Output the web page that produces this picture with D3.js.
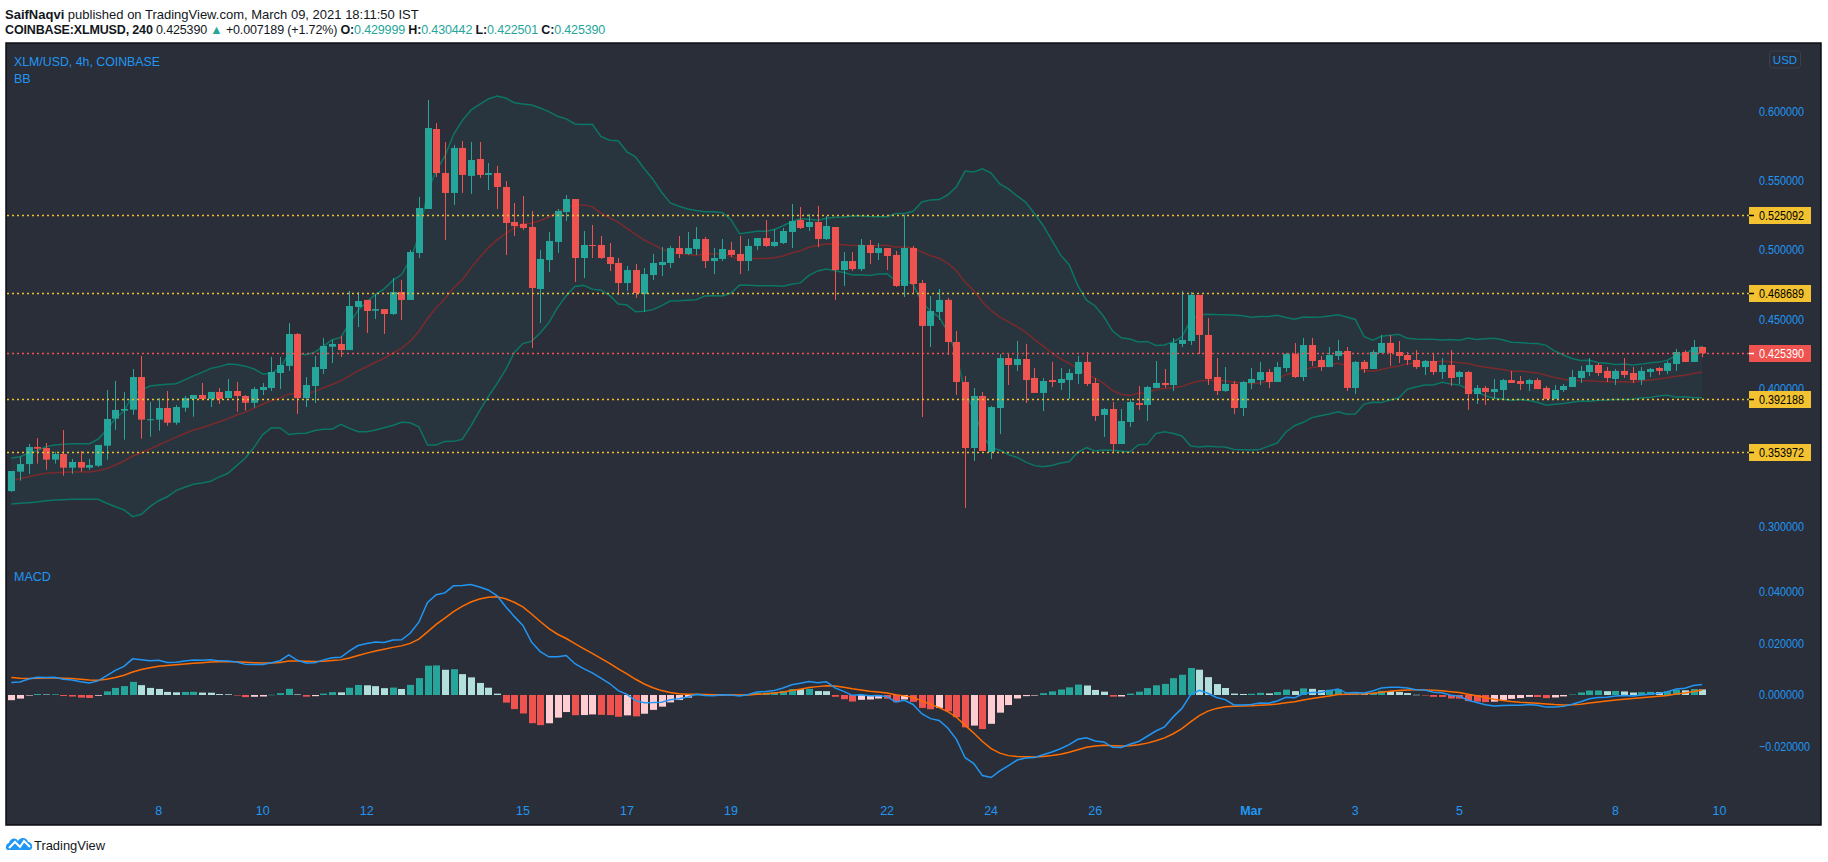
<!DOCTYPE html>
<html><head><meta charset="utf-8">
<script src="https://cdn.jsdelivr.net/npm/d3@7"></script>
<style>
body{margin:0;background:#ffffff;}
text{font-family:"Liberation Sans",Arial,sans-serif;}
</style>
</head><body>
<svg id="c" width="1828" height="862"></svg>
<script>
// ---------------- DATA ----------------
const opens = [
0.3259,0.3399,0.3454,0.3577,0.3570,0.3486,0.3527,0.3428,0.3469,0.3428,
0.3442,0.3587,0.3782,0.3840,0.3847,0.4083,0.3775,0.3775,0.3859,0.3753,
0.3861,0.3924,0.3953,0.3924,0.3975,0.3931,0.3982,0.3946,0.3897,0.3989,
0.4004,0.4112,0.4163,0.4394,0.3931,0.4018,0.4141,0.4302,0.4322,0.4278,
0.4589,0.4640,0.4562,0.4574,0.4538,0.4697,0.4640,0.4979,0.5297,0.5875,
0.5557,0.5413,0.5738,0.5536,0.5658,0.5543,0.5557,0.5456,0.5203,0.5189,
0.5167,0.4719,0.4928,0.5059,0.5275,0.5369,0.4943,0.5037,0.5037,0.4950,
0.4907,0.4762,0.4856,0.4683,0.4820,0.4892,0.4907,0.5015,0.4972,0.5008,
0.5080,0.4921,0.4936,0.5001,0.4972,0.4921,0.5030,0.5087,0.5030,0.5051,
0.5131,0.5217,0.5167,0.5203,0.5080,0.5167,0.4856,0.4921,0.4863,0.5037,
0.4979,0.5015,0.4965,0.4741,0.5015,0.4762,0.4452,0.4553,0.4640,0.4336,
0.4047,0.3570,0.3946,0.3541,0.3859,0.4220,0.4170,0.4213,0.4076,0.3968,
0.4061,0.4040,0.4061,0.4105,0.4192,0.4040,0.3809,0.3852,0.3599,0.3758,
0.3895,0.3881,0.4004,0.4040,0.4025,0.4322,0.4343,0.4676,0.4387,0.4083,
0.3982,0.4033,0.3859,0.4040,0.4061,0.4119,0.4047,0.4148,0.4249,0.4083,
0.4314,0.4206,0.4155,0.4235,0.4271,0.4004,0.4192,0.4141,0.4257,0.4329,
0.4264,0.4242,0.4206,0.4155,0.4199,0.4119,0.4170,0.4083,0.4119,0.3960,
0.4004,0.3975,0.3989,0.4061,0.4054,0.4033,0.4061,0.4004,0.3924,0.3989,
0.4011,0.4076,0.4119,0.4170,0.4127,0.4069,0.4127,0.4112,0.4061,0.4119,
0.4148,0.4127,0.4177,0.4264,0.4192,0.429999];
const highs = [
0.3404,0.3507,0.3599,0.3642,0.3606,0.3543,0.3700,0.3491,0.3548,0.3491,
0.3592,0.3989,0.4054,0.3975,0.4141,0.4235,0.3902,0.3931,0.3982,0.3881,
0.3946,0.3953,0.4040,0.3975,0.4004,0.4069,0.4047,0.3953,0.4011,0.4040,
0.4228,0.4228,0.4473,0.4401,0.4083,0.4235,0.4365,0.4351,0.4379,0.4705,
0.4697,0.4640,0.4683,0.4574,0.4798,0.4784,0.5001,0.5384,0.6085,0.5918,
0.5781,0.5760,0.5788,0.5781,0.5781,0.5629,0.5608,0.5499,0.5340,0.5391,
0.5283,0.5001,0.5131,0.5297,0.5398,0.5369,0.5138,0.5181,0.5102,0.5051,
0.4943,0.4885,0.4900,0.4871,0.4972,0.5022,0.5030,0.5102,0.5131,0.5167,
0.5095,0.5015,0.5080,0.5059,0.5102,0.5080,0.5087,0.5217,0.5153,0.5160,
0.5333,0.5311,0.5261,0.5319,0.5246,0.5167,0.4986,0.4986,0.5080,0.5073,
0.5051,0.5015,0.4994,0.5254,0.5030,0.4784,0.4668,0.4719,0.4654,0.4416,
0.4090,0.4004,0.3975,0.3874,0.4249,0.4249,0.4343,0.4322,0.4148,0.4076,
0.4192,0.4148,0.4141,0.4235,0.4264,0.4076,0.3859,0.3902,0.3852,0.3924,
0.4018,0.4018,0.4199,0.4141,0.4365,0.4705,0.4697,0.4676,0.4509,0.4220,
0.4155,0.4054,0.4054,0.4148,0.4192,0.4141,0.4192,0.4257,0.4329,0.4365,
0.4365,0.4235,0.4300,0.4351,0.4300,0.4199,0.4206,0.4278,0.4387,0.4387,
0.4343,0.4264,0.4278,0.4206,0.4257,0.4220,0.4278,0.4127,0.4127,0.4025,
0.4018,0.4069,0.4069,0.4127,0.4090,0.4069,0.4076,0.4018,0.4025,0.4033,
0.4134,0.4163,0.4220,0.4184,0.4155,0.4141,0.4220,0.4155,0.4155,0.4148,
0.4155,0.4199,0.4286,0.4278,0.4351,0.430442];
const lows = [
0.3252,0.3334,0.3382,0.3457,0.3413,0.3457,0.3370,0.3384,0.3399,0.3413,
0.3433,0.3486,0.3702,0.3630,0.3811,0.3637,0.3652,0.3695,0.3731,0.3738,
0.3832,0.3796,0.3924,0.3866,0.3888,0.3931,0.3832,0.3840,0.3861,0.3953,
0.3982,0.3996,0.4127,0.3816,0.3866,0.3895,0.4105,0.4184,0.4228,0.4278,
0.4444,0.4401,0.4502,0.4394,0.4531,0.4495,0.4640,0.4943,0.5297,0.5528,
0.5073,0.5326,0.5413,0.5406,0.5521,0.5434,0.5297,0.4965,0.5102,0.5145,
0.4293,0.4473,0.4842,0.4979,0.5210,0.4770,0.4798,0.4943,0.4936,0.4849,
0.4676,0.4705,0.4654,0.4553,0.4784,0.4813,0.4871,0.4943,0.4965,0.4965,
0.4871,0.4827,0.4921,0.4950,0.4827,0.4849,0.5001,0.5022,0.5022,0.5044,
0.5015,0.5153,0.5138,0.5022,0.5073,0.4640,0.4741,0.4849,0.4849,0.4900,
0.4928,0.4856,0.4733,0.4661,0.4683,0.3794,0.4300,0.4495,0.4242,0.3953,
0.3137,0.3476,0.3548,0.3491,0.3671,0.4025,0.4127,0.3895,0.3968,0.3837,
0.4011,0.3989,0.3924,0.4033,0.4018,0.3765,0.3650,0.3541,0.3599,0.3722,
0.3845,0.3765,0.4004,0.4004,0.3982,0.4300,0.4314,0.4249,0.4025,0.3953,
0.3975,0.3816,0.3801,0.3996,0.4025,0.4004,0.4047,0.4119,0.4076,0.4054,
0.4163,0.4127,0.4155,0.4206,0.3982,0.3960,0.4112,0.4141,0.4257,0.4163,
0.4184,0.4170,0.4141,0.4098,0.4098,0.4069,0.4018,0.4033,0.3845,0.3888,
0.3881,0.3924,0.3924,0.4040,0.3989,0.3982,0.3996,0.3924,0.3924,0.3975,
0.4011,0.4040,0.4090,0.4090,0.4047,0.4025,0.4076,0.4040,0.4025,0.4083,
0.4098,0.4105,0.4127,0.4192,0.4192,0.422501];
const closes = [
0.3404,0.3454,0.3577,0.3565,0.3486,0.3527,0.3428,0.3469,0.3428,0.3447,
0.3592,0.3780,0.3845,0.3852,0.4083,0.3775,0.3778,0.3859,0.3753,0.3866,
0.3931,0.3953,0.3924,0.3975,0.3924,0.3982,0.3946,0.3897,0.3996,0.4011,
0.4119,0.4170,0.4394,0.3931,0.4025,0.4155,0.4307,0.4322,0.4278,0.4596,
0.4632,0.4560,0.4574,0.4538,0.4697,0.4640,0.4986,0.5304,0.5882,0.5557,
0.5413,0.5738,0.5543,0.5651,0.5543,0.5557,0.5456,0.5196,0.5174,0.5160,
0.4726,0.4936,0.5066,0.5283,0.5369,0.4943,0.5037,0.5030,0.4943,0.4900,
0.4762,0.4856,0.4690,0.4827,0.4907,0.4914,0.5015,0.4972,0.5015,0.5080,
0.4921,0.4943,0.5008,0.4965,0.4921,0.5030,0.5087,0.5030,0.5059,0.5138,
0.5210,0.5160,0.5203,0.5080,0.5174,0.4856,0.4921,0.4863,0.5037,0.4979,
0.5015,0.4957,0.4741,0.5015,0.4755,0.4452,0.4560,0.4640,0.4336,0.4047,
0.3570,0.3946,0.3548,0.3866,0.4220,0.4170,0.4213,0.4061,0.3968,0.4054,
0.4047,0.4069,0.4112,0.4192,0.4033,0.3801,0.3852,0.3599,0.3765,0.3902,
0.3881,0.4011,0.4040,0.4025,0.4329,0.4351,0.4676,0.4387,0.4069,0.3982,
0.4033,0.3859,0.4047,0.4069,0.4119,0.4047,0.4155,0.4249,0.4083,0.4314,
0.4199,0.4155,0.4242,0.4271,0.4004,0.4192,0.4141,0.4264,0.4329,0.4257,
0.4235,0.4206,0.4155,0.4199,0.4119,0.4170,0.4076,0.4119,0.3960,0.4004,
0.3975,0.3996,0.4061,0.4040,0.4033,0.4061,0.3996,0.3924,0.3989,0.4018,
0.4083,0.4127,0.4170,0.4112,0.4076,0.4127,0.4098,0.4061,0.4127,0.4141,
0.4127,0.4184,0.4264,0.4192,0.4300,0.425390];

// Bollinger values visible on the first 19 bars (their 20-bar history is off-chart)
const bbMidStart = [0.3334,0.3348,0.3363,0.3377,0.3387,0.3391,0.3394,0.3397,0.3397,0.3397,0.3406,0.3421,0.3447,0.3476,0.3512,0.3536,0.3563,0.3592,0.3620];
const bbUpStart  = [0.3498,0.3507,0.3532,0.3551,0.3580,0.3592,0.3597,0.3601,0.3601,0.3601,0.3633,0.3700,0.3785,0.3837,0.3953,0.3989,0.4018,0.4025,0.4030];
const bbLowStart = [0.3166,0.3171,0.3175,0.3180,0.3189,0.3194,0.3197,0.3199,0.3199,0.3199,0.3199,0.3171,0.3146,0.3122,0.3074,0.3091,0.3146,0.3189,0.3218];
// MACD state at the first visible bar: EMA12, EMA26, signal
const macdSeed = [0.3378, 0.3330, 0.0068];

const levelValues = [0.525092, 0.468689, 0.392188, 0.353972];
const lastPrice = 0.425390;
const priceTicks = [0.30, 0.35, 0.40, 0.45, 0.50, 0.55, 0.60];
const macdTicks = [-0.02, 0, 0.02, 0.04];
const dateTickBars = [17, 29, 41, 59, 71, 83, 101, 113, 125, 143, 155, 167, 185, 197];
const dateTickLabels = ["8","10","12","15","17","19","22","24","26","Mar","3","5","8","10"];

// ---------------- INDICATORS ----------------
const N = closes.length;
const bbMid=[], bbUp=[], bbLow=[];
for (let i=0;i<N;i++){
  if (i<19){ bbMid.push(bbMidStart[i]); bbUp.push(bbUpStart[i]); bbLow.push(bbLowStart[i]); continue; }
  const w = closes.slice(i-19,i+1);
  const m = d3.mean(w);
  const sd = Math.sqrt(d3.mean(w, v => (v-m)*(v-m)));
  bbMid.push(m); bbUp.push(m+2*sd); bbLow.push(m-2*sd);
}
const a12=2/13, a26=2/27, a9=2/10;
let e12=macdSeed[0], e26=macdSeed[1], sig=macdSeed[2];
const macd=[], signal=[], hist=[];
for (let i=0;i<N;i++){
  if (i>0){ e12 = closes[i]*a12 + e12*(1-a12); e26 = closes[i]*a26 + e26*(1-a26); }
  const m = e12-e26;
  if (i>0) sig = m*a9 + sig*(1-a9);
  macd.push(m); signal.push(sig); hist.push(m-sig);
}

// ---------------- LAYOUT ----------------
const svg = d3.select('#c');
const BG = '#2a2e39';
const L=6, R=1821, T=43, B=825, PR=1749;
const mainTop=43, mainBot=557, macdTop=557, macdBot=797;
const GREEN='#26a69a', RED='#ef5350', BLUE='#2196f3', YEL='#f2c230';

const x = d3.scaleLinear().domain([-0.61, 200.4]).range([L, PR]);
const y = d3.scaleLinear().domain([0.27825, 0.64964]).range([mainBot, mainTop]);
const ym = d3.scaleLinear().domain([-0.03946, 0.05338]).range([macdBot, macdTop]);

svg.append('rect').attr('x',L).attr('y',T).attr('width',R-L).attr('height',B-T)
  .attr('fill',BG).attr('stroke','#0c0e13').attr('stroke-width',1.5);

const defs = svg.append('defs');
defs.append('clipPath').attr('id','cm').append('rect').attr('x',L+1).attr('y',mainTop).attr('width',PR-L-1).attr('height',mainBot-mainTop);
defs.append('clipPath').attr('id','cd').append('rect').attr('x',L+1).attr('y',macdTop).attr('width',PR-L-1).attr('height',macdBot-macdTop);

const gm = svg.append('g').attr('clip-path','url(#cm)');
const idx = d3.range(N);

// Bollinger fill and lines
gm.append('path').datum(idx)
  .attr('d', d3.area().x(i=>x(i)).y0(i=>y(bbLow[i])).y1(i=>y(bbUp[i])))
  .attr('fill','rgba(38,166,154,0.06)');
const bbLine = arr => d3.line().x(i=>x(i)).y(i=>y(arr[i]));
gm.append('path').datum(idx).attr('d',bbLine(bbMid)).attr('fill','none').attr('stroke','#7a2a2c').attr('stroke-width',1.5);
gm.append('path').datum(idx).attr('d',bbLine(bbUp)).attr('fill','none').attr('stroke','#0b7566').attr('stroke-width',1.5);
gm.append('path').datum(idx).attr('d',bbLine(bbLow)).attr('fill','none').attr('stroke','#0b7566').attr('stroke-width',1.5);

// Candles
const cg = gm.append('g');
cg.selectAll('line.w').data(idx).join('line')
  .attr('x1',i=>Math.round(x(i))+0.5).attr('x2',i=>Math.round(x(i))+0.5)
  .attr('y1',i=>y(highs[i])).attr('y2',i=>y(lows[i]))
  .attr('stroke',i=>closes[i]>=opens[i]?GREEN:RED).attr('stroke-width',1);
cg.selectAll('rect.b').data(idx).join('rect')
  .attr('x',i=>Math.round(x(i))-3).attr('width',7)
  .attr('y',i=>y(Math.max(opens[i],closes[i])))
  .attr('height',i=>Math.max(1, Math.abs(y(opens[i])-y(closes[i]))))
  .attr('fill',i=>closes[i]>=opens[i]?GREEN:RED);

// Horizontal levels
levelValues.forEach(v=>{
  svg.append('line').attr('x1',L+1).attr('x2',PR).attr('y1',Math.round(y(v))+0.5).attr('y2',Math.round(y(v))+0.5)
    .attr('stroke',YEL).attr('stroke-width',1.3).attr('stroke-dasharray','2,3');
});
svg.append('line').attr('x1',L+1).attr('x2',PR).attr('y1',Math.round(y(lastPrice))+0.5).attr('y2',Math.round(y(lastPrice))+0.5)
  .attr('stroke',RED).attr('stroke-width',1.3).attr('stroke-dasharray','2,3');

// Price axis (tick labels hidden where a level label box sits on top of them)
const fmt = d3.format('.6f');
const boxed = [...levelValues, lastPrice];
const visibleTicks = priceTicks.filter(t => boxed.every(v => Math.abs(y(v)-y(t)) > 8));
svg.append('g').selectAll('text').data(visibleTicks).join('text')
  .attr('x',1759).attr('y',d=>y(d)).attr('dy','0.35em')
  .attr('fill',BLUE).attr('font-size',12.5)
  .attr('textLength',45).attr('lengthAdjust','spacingAndGlyphs').text(d=>fmt(d));
function priceLabel(v, bg, fg){
  const yy = Math.round(y(v));
  svg.append('rect').attr('x',PR).attr('y',yy-8).attr('width',62).attr('height',17).attr('fill',bg);
  svg.append('line').attr('x1',PR).attr('x2',PR+5).attr('y1',yy+0.5).attr('y2',yy+0.5).attr('stroke',fg).attr('stroke-width',1.5);
  svg.append('text').attr('x',1759).attr('y',yy+0.5).attr('dy','0.35em').attr('fill',fg).attr('font-size',12.5)
    .attr('textLength',45).attr('lengthAdjust','spacingAndGlyphs').text(fmt(v));
}
levelValues.forEach(v=>priceLabel(v, YEL, '#000'));
priceLabel(lastPrice, RED, '#fff');

// USD box
svg.append('rect').attr('x',1769.5).attr('y',51).attr('width',31).attr('height',17).attr('rx',3)
  .attr('fill','none').attr('stroke','#3a3f4c');
svg.append('text').attr('x',1785).attr('y',60).attr('dy','0.35em').attr('text-anchor','middle')
  .attr('fill',BLUE).attr('font-size',11.5).text('USD');

// Pane legends
svg.append('text').attr('x',14).attr('y',61).attr('dy','0.35em').attr('fill',BLUE).attr('font-size',13.5)
  .attr('textLength',146).attr('lengthAdjust','spacingAndGlyphs').text('XLM/USD, 4h, COINBASE');
svg.append('text').attr('x',14).attr('y',79).attr('dy','0.35em').attr('fill',BLUE).attr('font-size',12.5).text('BB');
svg.append('text').attr('x',14).attr('y',577).attr('dy','0.35em').attr('fill',BLUE).attr('font-size',12.5).text('MACD');

// MACD pane
const gd = svg.append('g').attr('clip-path','url(#cd)');
const histColor = i => {
  const h = hist[i], p = i>0 ? hist[i-1] : h;
  if (h >= 0) return h > p ? '#26a69a' : '#b2dfdb';
  return h < p ? '#ef5350' : '#ffcdd2';
};
gd.selectAll('rect').data(idx).join('rect')
  .attr('x',i=>Math.round(x(i))-3).attr('width',7)
  .attr('y',i=>Math.min(ym(0),ym(hist[i])))
  .attr('height',i=>Math.max(0.5,Math.abs(ym(hist[i])-ym(0))))
  .attr('fill',histColor);
gd.append('path').datum(idx).attr('d',d3.line().x(i=>x(i)).y(i=>ym(signal[i]))).attr('fill','none').attr('stroke','#ff6d00').attr('stroke-width',1.5);
gd.append('path').datum(idx).attr('d',d3.line().x(i=>x(i)).y(i=>ym(macd[i]))).attr('fill','none').attr('stroke',BLUE).attr('stroke-width',1.5);
svg.append('g').selectAll('text').data(macdTicks).join('text')
  .attr('x',1759).attr('y',d=>ym(d)).attr('dy','0.35em')
  .attr('fill',BLUE).attr('font-size',12.5)
  .attr('textLength',d=>d<0?51:45).attr('lengthAdjust','spacingAndGlyphs')
  .text(d=>d<0?'\u2212'+fmt(-d):fmt(d));

// Date axis
svg.append('g').selectAll('text').data(dateTickBars).join('text')
  .attr('x',d=>x(d)).attr('y',811).attr('dy','0.35em').attr('text-anchor','middle')
  .attr('fill',BLUE).attr('font-size',12.5)
  .attr('font-weight',(d,i)=>dateTickLabels[i]==='Mar'?'bold':'normal')
  .text((d,i)=>dateTickLabels[i]);

// Header
const h1 = svg.append('text').attr('x',5).attr('y',14).attr('dy','0.35em').attr('font-size',13).attr('fill','#131722');
h1.append('tspan').attr('font-weight','bold').text('SaifNaqvi');
h1.append('tspan').text(' published on TradingView.com, March 09, 2021 18:11:50 IST');
const h2 = svg.append('text').attr('x',5).attr('y',30).attr('dy','0.35em').attr('font-size',12.5).attr('fill','#131722')
  .attr('letter-spacing','-0.15');
h2.append('tspan').attr('font-weight','bold').text('COINBASE:XLMUSD, 240');
h2.append('tspan').text(' 0.425390 ');
h2.append('tspan').attr('fill',GREEN).text('\u25B2');
h2.append('tspan').text(' +0.007189 (+1.72%) ');
[['O:','0.429999'],['H:','0.430442'],['L:','0.422501'],['C:','0.425390']].forEach((p,k)=>{
  h2.append('tspan').attr('font-weight','bold').text((k?' ':'')+p[0]);
  h2.append('tspan').attr('fill',GREEN).text(p[1]);
});

// Footer logo
const lg = svg.append('g').attr('transform','translate(6,836)');
lg.append('path').attr('d','M2,14 C-1,14 -1,8 3,7 C4,2 10,1 12,5 C14,1 21,1 22,6 C27,6 28,14 23,14 Z').attr('fill','#2196f3');
lg.append('polyline').attr('points','3,12 9,6 14,11 18,5 24,11').attr('fill','none').attr('stroke','#fff').attr('stroke-width',2);
svg.append('text').attr('x',34).attr('y',845).attr('dy','0.35em').attr('font-size',13).attr('fill','#131722')
  .attr('textLength',71).attr('lengthAdjust','spacingAndGlyphs').text('TradingView');
</script>
</body></html>
